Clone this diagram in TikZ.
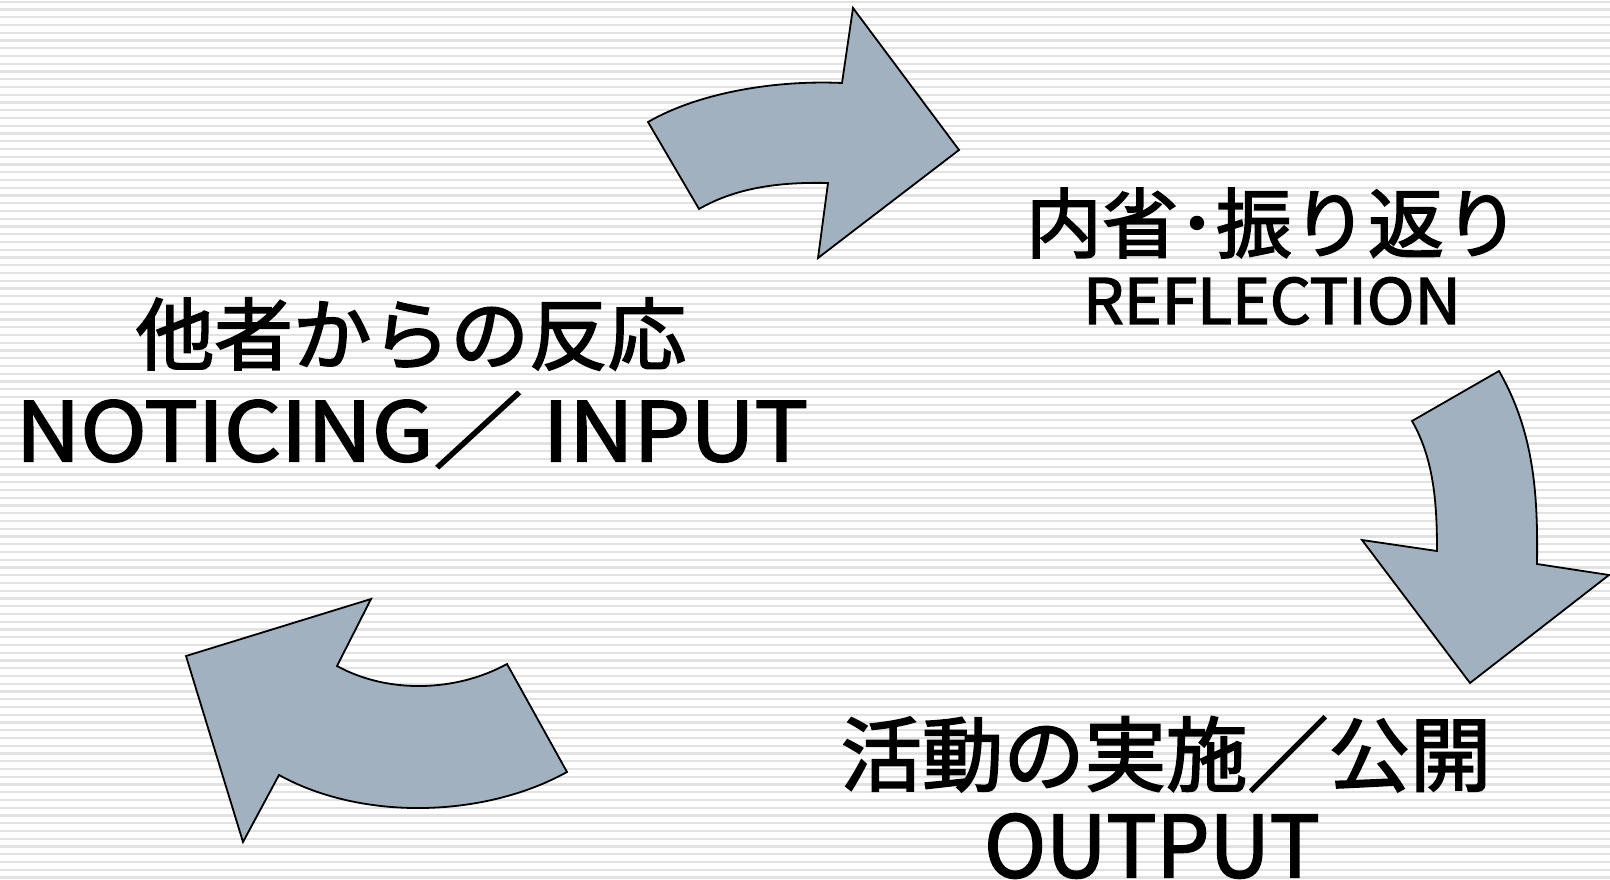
\documentclass[tikz,border=0pt]{standalone}
\usepackage{fontspec}
\setmainfont{Noto Sans CJK JP}
\newfontfamily\jpfont{Noto Sans CJK JP}[FakeBold=2.2]
\definecolor{arrowfill}{HTML}{A2B1C0}
\definecolor{stripe}{HTML}{E2E2E2}
\begin{document}
\begin{tikzpicture}[x=0.75pt,y=-0.75pt,
  bigarrow/.style={fill=arrowfill, draw=black, line width=1.35pt, line join=miter},
  lbl/.style={inner sep=0pt, anchor=center, text=black}]
\useasboundingbox (0,0) rectangle (1610,880);
\fill[white] (0,0) rectangle (1610,880);
\foreach \i in {0,...,113} \draw[stripe, line width=1.7pt] (0,1.7+7.75*\i) -- (1610,1.7+7.75*\i);
% arrows
\draw[bigarrow] (648,122) .. controls (700,92) and (777,80) .. (842,83) -- (853,8) -- (959,150) -- (818,258) -- (828,183) .. controls (783,182) and (738,186.5) .. (699,209) -- cycle;
\draw[bigarrow] (1499,371) .. controls (1534,432) and (1538,494) .. (1537,564) -- (1609,575) -- (1470,683) -- (1362,540) -- (1437,551) .. controls (1437,506) and (1434.5,460) .. (1412,421) -- cycle;
\draw[bigarrow] (507,664) .. controls (456,692) and (388,694) .. (337,666) -- (371,599) -- (186,656) -- (243,842) -- (279,775) .. controls (362,821) and (484,818) .. (567,772) -- cycle;
% labels
\node[lbl, font=\jpfont\fontsize{59}{60}\selectfont] (inja) at (411,334) {他者からの反応};
\node[lbl, font=\jpfont\fontsize{61.5}{62}\selectfont, xscale=1.09, transform shape] (inen) at (412,430) {NOTICING／ INPUT};
\node[lbl, font=\jpfont\fontsize{57}{58}\selectfont] (refja) at (1273,223) {内省･振り返り};
\node[lbl, font=\jpfont\fontsize{47}{48}\selectfont, xscale=1.025, transform shape] (refen) at (1272,301) {REFLECTION};
\node[lbl, font=\jpfont\fontsize{61}{62}\selectfont] (outja) at (1166,754) {活動の実施／公開};
\node[lbl, font=\jpfont\fontsize{64}{65}\selectfont, xscale=0.98, transform shape] (outen) at (1152,846) {OUTPUT};
\end{tikzpicture}
\end{document}
